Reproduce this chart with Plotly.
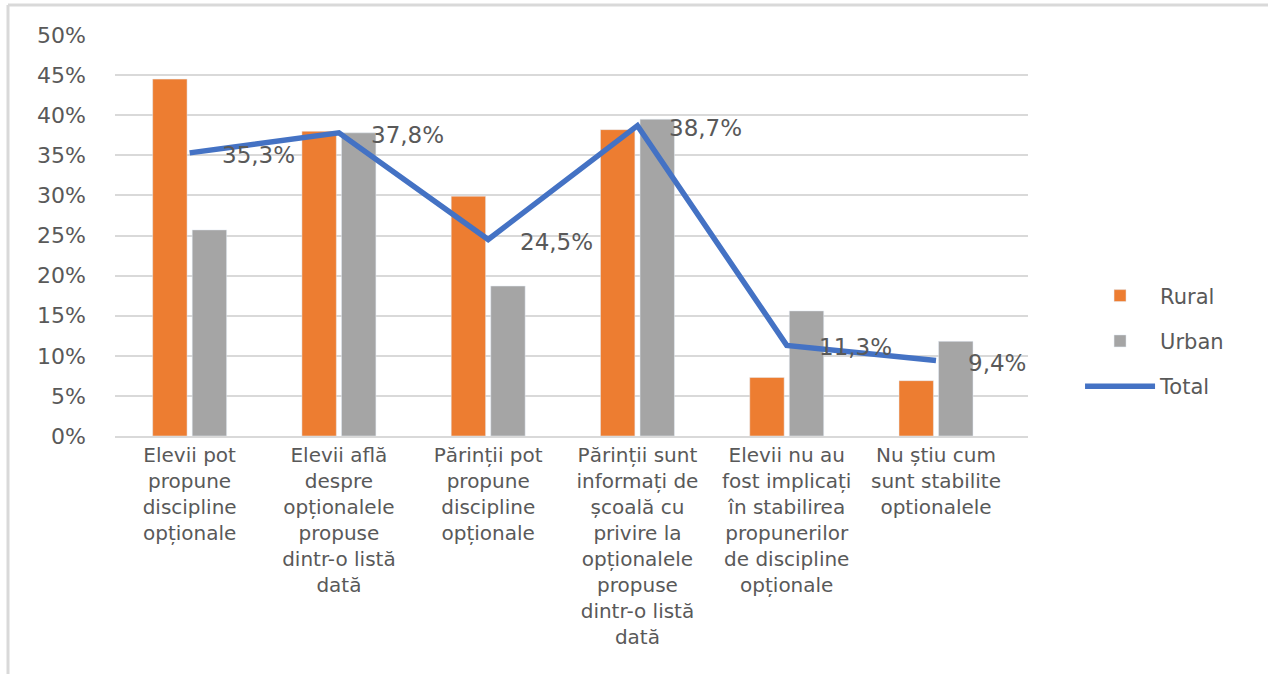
import plotly.graph_objects as go

categories = [
    "Elevii pot<br>propune<br>discipline<br>opționale",
    "Elevii află<br>despre<br>opționalele<br>propuse<br>dintr-o listă<br>dată",
    "Părinții pot<br>propune<br>discipline<br>opționale",
    "Părinții sunt<br>informați de<br>școală cu<br>privire la<br>opționalele<br>propuse<br>dintr-o listă<br>dată",
    "Elevii nu au<br>fost implicați<br>în stabilirea<br>propunerilor<br>de discipline<br>opționale",
    "Nu știu cum<br>sunt stabilite<br>optionalele",
]
rural = [44.5, 38.0, 29.9, 38.2, 7.3, 6.9]
urban = [25.7, 37.8, 18.7, 39.5, 15.6, 11.8]
total = [35.3, 37.8, 24.5, 38.7, 11.3, 9.4]
y_ticks = [0, 5, 10, 15, 20, 25, 30, 35, 40, 45, 50]
y_ticktext = [f"{v}%" for v in y_ticks]

FONT = "DejaVu Sans"
TXT = "#595959"
BORDER = "#D9D9D9"

fig = go.Figure()
fig.add_trace(go.Bar(name="Rural", x=categories, y=rural, marker_color="#ED7D31",
                     legendgroup="r"))
fig.add_trace(go.Bar(name="Urban", x=categories, y=urban, marker_color="#A5A5A5",
                     legendgroup="u"))
fig.add_trace(go.Scatter(name="Total", x=categories, y=total, mode="lines",
                         line=dict(color="#4472C4", width=5.5), legendgroup="t"))

for c, v in zip(categories, total):
    fig.add_annotation(x=c, y=v, text=f"{v:.1f}".replace(".", ",") + "%",
                       showarrow=False, xanchor="left", yanchor="middle",
                       xshift=30, yshift=-2,
                       font=dict(family=FONT, size=23, color=TXT))

fig.update_layout(
    width=1268, height=674,
    paper_bgcolor="white", plot_bgcolor="white",
    margin=dict(l=115, r=240, t=35, b=238),
    barmode="group", bargap=0.47, bargroupgap=0.13,
    font=dict(family=FONT, size=20, color=TXT),
    legend=dict(x=1.057, y=0.237, xanchor="left", yanchor="middle",
                font=dict(family=FONT, size=21, color=TXT),
                tracegroupgap=15, traceorder="grouped", itemwidth=70),
    xaxis=dict(showgrid=False, showline=True, linecolor=BORDER, linewidth=2,
               ticks="", tickfont=dict(family=FONT, size=20, color=TXT)),
    yaxis=dict(range=[0, 50], tickvals=y_ticks, ticktext=y_ticktext,
               showgrid=True, gridcolor=BORDER, gridwidth=2,
               zeroline=False, showline=False, ticks="", ticklabelstandoff=28,
               tickfont=dict(family=FONT, size=22, color=TXT)),
    shapes=[
        dict(type="line", xref="paper", yref="paper",
             x0=-107/913, x1=1153/913, y0=431/401, y1=431/401,
             line=dict(color=BORDER, width=3)),
        dict(type="line", xref="paper", yref="paper",
             x0=-107/913, x1=-107/913, y0=431/401, y1=-238/401,
             line=dict(color=BORDER, width=3)),
    ],
)

fig.write_html("out.html", config={"displayModeBar": False},
               post_script="document.body.style.margin='0px';")
